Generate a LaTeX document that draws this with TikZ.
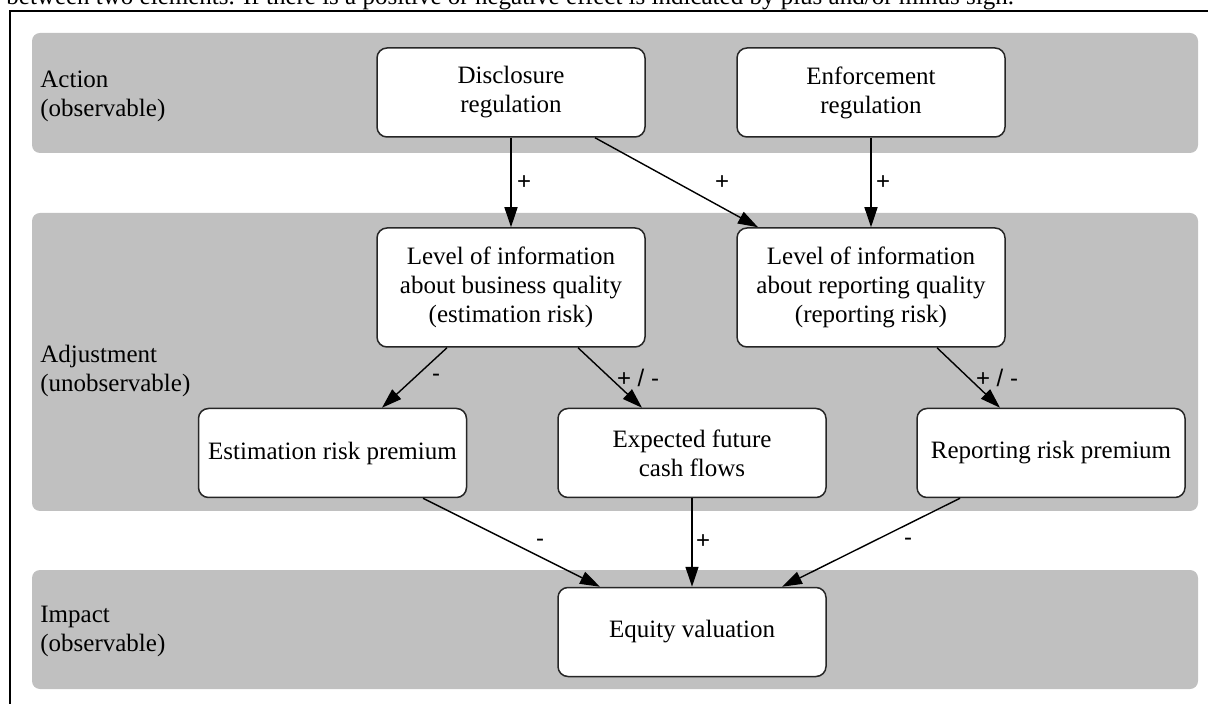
\documentclass[tikz,border=0pt]{standalone}
\usepackage{fontspec}
\setmainfont{Liberation Serif}
\newfontfamily\lblfont{Liberation Sans}
\usetikzlibrary{arrows.meta}
\definecolor{bandgray}{HTML}{C0C0C0}

\begin{document}
\begin{tikzpicture}[x=0.5pt,y=-0.5pt]
\tikzstyle{every node}+=[font=\fontsize{12.5}{14.5}\selectfont]
\tikzstyle{band}=[fill=bandgray,rounded corners=4pt]
\tikzstyle{box}=[draw=black!85,line width=0.75pt,fill=white,rounded corners=5pt,align=center,minimum width=134pt,minimum height=44.5pt,inner sep=2pt]
\tikzstyle{tall}=[box,minimum height=59.5pt]
\tikzstyle{side}=[anchor=west,align=left,inner sep=0pt]
\tikzstyle{lbl}=[font=\lblfont\fontsize{12}{14}\selectfont,inner sep=0pt]
\tikzstyle{edge}=[line width=0.7pt,-{Triangle[length=10pt,width=6.5pt]}]
\useasboundingbox (0,0) rectangle (1208,704);
\clip (0,0) rectangle (1208,704);
% caption line and frame, cut off by the page
\node[anchor=base west,inner sep=0pt] (note) at (6,5) {between two elements. If there is a positive or negative effect is indicated by plus and/or minus sign.};
\draw[line width=0.8pt] (10,11) rectangle (1240,740);
% bands
\fill[band] (32,33) rectangle (1198,153);
\fill[band] (32,213) rectangle (1198,511);
\fill[band] (32,570) rectangle (1198,689);
\node[side] (action) at (40,96) {Action\\(observable)};
\node[side] (adjust) at (40,371) {Adjustment\\(unobservable)};
\node[side] (impact) at (40,631) {Impact\\(observable)};
% boxes
\node[box] (disc) at (511,92.5) {Disclosure\\regulation};
\node[box] (enf) at (871,92.5) {Enforcement\\regulation};
\node[tall] (bus) at (511,287.5) {Level of information\\about business quality\\(estimation risk)};
\node[tall] (repq) at (871,287.5) {Level of information\\about reporting quality\\(reporting risk)};
\node[box] (est) at (332.5,453) {Estimation risk premium};
\node[box] (cash) at (692,453) {Expected future\\cash flows};
\node[box] (reppr) at (1051,453) {Reporting risk premium};
\node[box] (eq) at (692,632) {Equity valuation};
% arrows
\draw[edge] (disc) -- (bus);
\draw[edge] ([xshift=42pt]disc.south) -- ([xshift=-56.5pt]repq.north);
\draw[edge] (enf) -- (repq);
\draw[edge] ([xshift=-32pt]bus.south) -- ([xshift=24.75pt]est.north);
\draw[edge] ([xshift=33.5pt]bus.south) -- ([xshift=-25pt]cash.north);
\draw[edge] ([xshift=33pt]repq.south) -- ([xshift=-25.5pt]reppr.north);
\draw[edge] ([xshift=45.25pt]est.south) -- ([xshift=-46pt]eq.north);
\draw[edge] (cash) -- (eq);
\draw[edge] ([xshift=-45.5pt]reppr.south) -- ([xshift=45pt]eq.north);
% signs
\node[lbl] (s1) at (524,183) {+};
\node[lbl] (s2) at (722,183) {+};
\node[lbl] (s3) at (883,183) {+};
\node[lbl] (s4) at (436,378) {-};
\node[lbl] (s5) at (638,378) {+ / -};
\node[lbl] (s6) at (997,378) {+ / -};
\node[lbl] (s7) at (540,543) {-};
\node[lbl] (s8) at (703,542) {+};
\node[lbl] (s9) at (908,542) {-};
\end{tikzpicture}
\end{document}
